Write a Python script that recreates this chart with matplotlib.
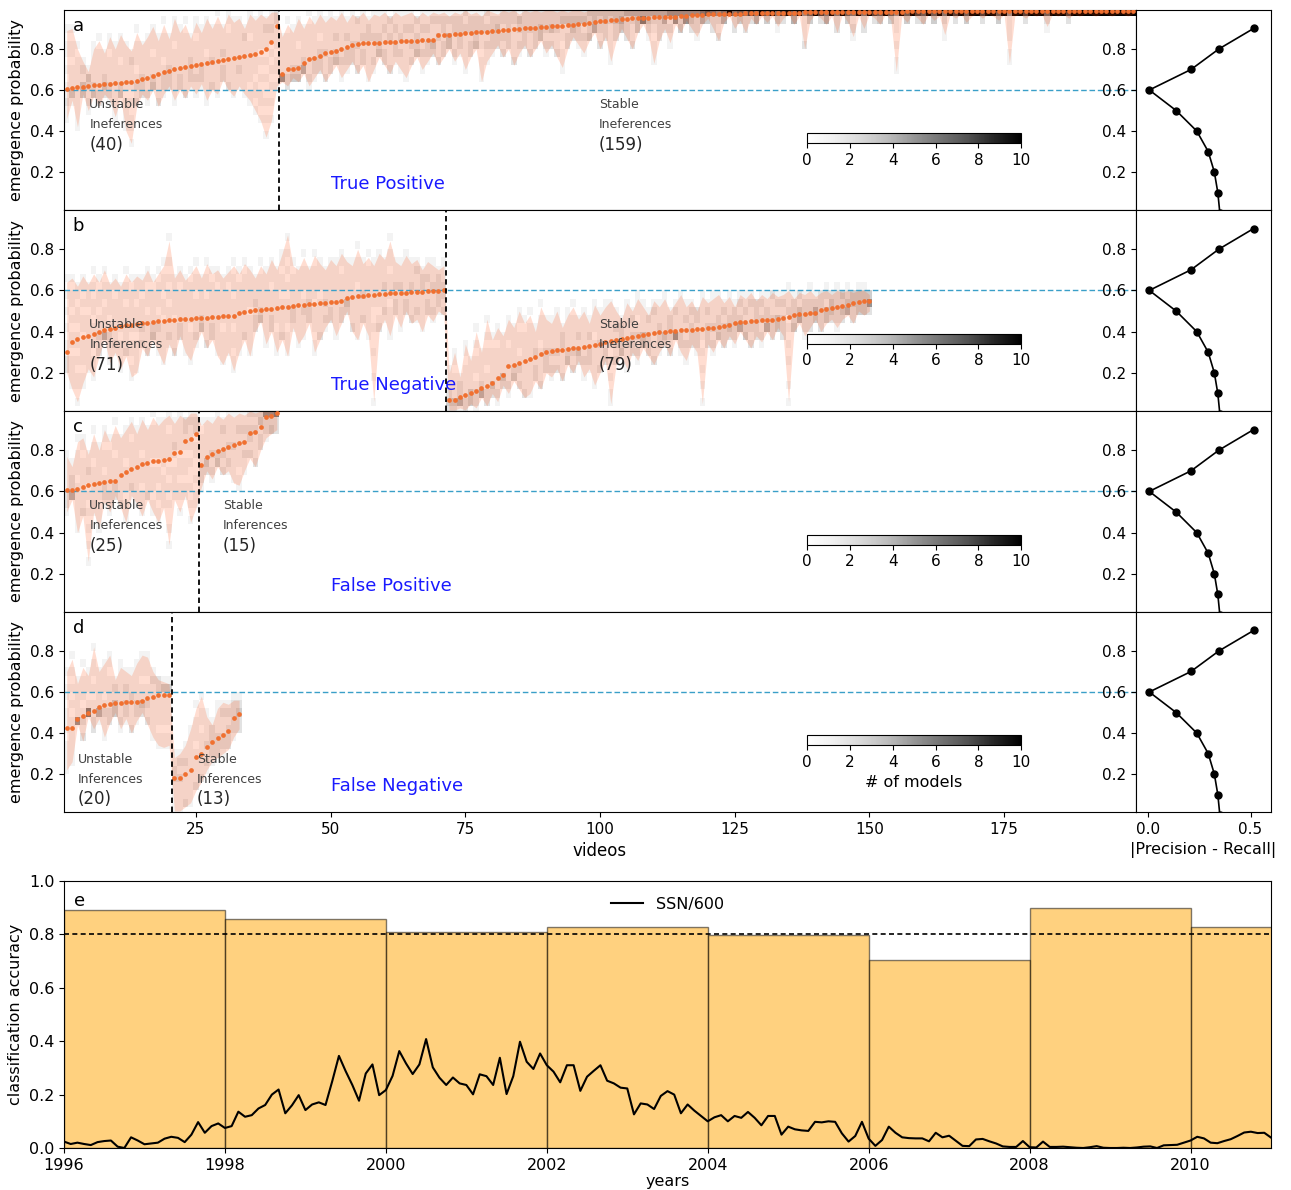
import numpy as np
import matplotlib
matplotlib.use("Agg")
import matplotlib.pyplot as plt

# ---------------- data ----------------
# panel a : true positive
a_un_mean = [0.605,0.610,0.613,0.616,0.619,0.622,0.625,0.627,0.630,0.632,
             0.635,0.637,0.640,0.646,0.653,0.660,0.668,0.678,0.688,0.694,
             0.700,0.705,0.710,0.715,0.720,0.725,0.730,0.735,0.740,0.745,
             0.750,0.755,0.760,0.765,0.770,0.776,0.785,0.800,0.835,0.910]
a_un_up = [0.89,0.90,0.80,0.74,0.69,0.80,0.84,0.78,0.86,0.80,0.87,0.82,0.79,0.88,0.82,0.86,0.91,0.84,0.92,0.85,
           0.95,0.88,0.92,0.85,0.93,0.88,0.95,0.90,0.96,0.90,0.97,0.93,0.95,0.90,0.97,0.94,0.97,0.95,0.98,0.98]
a_un_low = [0.46,0.55,0.42,0.58,0.50,0.57,0.52,0.58,0.55,0.47,0.56,0.40,0.34,0.52,0.58,0.55,0.60,0.52,0.58,0.62,
            0.55,0.60,0.56,0.62,0.58,0.63,0.55,0.60,0.58,0.65,0.60,0.57,0.62,0.58,0.55,0.50,0.45,0.37,0.45,0.62]
a_st_mean = [0.679,0.700,0.702,0.705,0.730,0.750,0.757,0.768,0.778,0.786,
             0.792,0.800,0.812,0.818,0.824,0.827,0.829,0.830,0.831,0.832,
             0.834,0.835,0.837,0.838,0.840,0.841,0.843,0.844,0.846,0.866,
             0.868,0.870,0.872,0.874,0.877,0.879,0.881,0.883,0.885,0.887,
             0.890,0.892,0.894,0.896,0.898,0.900,0.902,0.904,0.906,0.908,
             0.910,0.912,0.914,0.916,0.918,0.921,0.924,0.927,0.930,0.934,
             0.937,0.940,0.943,0.945,0.947,0.949,0.950,0.952,0.953,0.954,
             0.955,0.956,0.957,0.958,0.960,0.962,0.964,0.966,0.968,0.969,
             0.970,0.970,0.971,0.971,0.972,0.972,0.973,0.973,0.974,0.974,
             0.975,0.975,0.976,0.976,0.977,0.977,0.977,0.978,0.978,0.978,
             0.979,0.979,0.979,0.980,0.980,0.980,0.980,0.981,0.981,0.981,
             0.981,0.982,0.982,0.982,0.982,0.982,0.983,0.983,0.983,0.983,
             0.983,0.983,0.984,0.984,0.984,0.984,0.984,0.984,0.984,0.985,
             0.985,0.985,0.985,0.985,0.985,0.985,0.985,0.985,0.985,0.985,
             0.985,0.985,0.986,0.986,0.986,0.986,0.986,0.986,0.986,0.986,
             0.986,0.986,0.986,0.986,0.986,0.986,0.986,0.986,0.986]
a_st_up = [0.86,0.92,0.88,0.95,0.90,0.96,0.92,0.97,0.93,0.96,
           0.94,0.98,0.93,0.97,0.95,0.98,0.94,0.97,0.96,0.98,
           0.95,0.98,0.96,0.97,0.98,0.95,0.98,0.96,0.98,0.97,
           0.98,0.96,0.98,0.97,0.99,0.97,0.98,0.96,0.99,0.98,
           0.97,0.99,0.98,0.99,0.97,0.99,0.98,0.99,0.98,0.99,
           0.99,0.98,0.99,0.98,0.99,0.99,0.98,0.99,0.99,0.99,
           0.99,0.99,0.99,0.99,0.99,0.99,0.99,0.99,0.99,0.99,
           0.99,0.99,0.99,0.99,0.99,0.99,0.99,0.99,0.99,0.99,
           0.99,0.99,0.99,0.99,0.99,0.99,0.99,0.99,0.99,0.99,
           0.99,0.99,0.99,0.99,0.99,0.99,0.99,0.99,0.99,0.99,
           0.99,0.99,0.99,0.99,0.99,0.99,0.99,0.99,0.99,0.99,
           0.99,0.99,0.99,0.99,0.99,0.99,0.99,0.99,0.99,0.99,
           0.99,0.99,0.99,0.99,0.99,0.99,0.99,0.99,0.99,0.99,
           0.99,0.99,0.99,0.99,0.99,0.99,0.99,0.99,0.99,0.99,
           0.99,0.99,0.99,0.99,0.99,0.99,0.99,0.99,0.99,0.99,
           0.99,0.99,0.99,0.99,0.99,0.99,0.99,0.99,0.99]
a_st_low = [0.64,0.62,0.66,0.64,0.68,0.62,0.66,0.70,0.64,0.68,
            0.72,0.66,0.70,0.74,0.68,0.72,0.64,0.70,0.76,0.72,
            0.68,0.74,0.70,0.66,0.72,0.76,0.70,0.74,0.78,0.72,
            0.76,0.80,0.74,0.78,0.70,0.76,0.80,0.64,0.74,0.78,
            0.82,0.76,0.80,0.72,0.78,0.82,0.76,0.80,0.84,0.78,
            0.82,0.76,0.71,0.80,0.86,0.82,0.78,0.84,0.88,0.80,
            0.86,0.74,0.84,0.90,0.85,0.80,0.88,0.92,0.86,0.73,
            0.84,0.90,0.83,0.92,0.88,0.94,0.90,0.86,0.92,0.95,
            0.90,0.84,0.93,0.96,0.90,0.94,0.88,0.95,0.92,0.96,
            0.93,0.96,0.91,0.95,0.97,0.92,0.96,0.80,0.94,0.97,
            0.95,0.92,0.96,0.88,0.97,0.93,0.86,0.96,0.90,0.97,
            0.95,0.92,0.97,0.94,0.69,0.96,0.93,0.97,0.95,0.92,
            0.97,0.94,0.96,0.87,0.97,0.95,0.97,0.93,0.96,0.97,
            0.95,0.97,0.96,0.94,0.97,0.73,0.96,0.97,0.95,0.97,
            0.96,0.97,0.91,0.97,0.96,0.97,0.95,0.97,0.96,0.97,
            0.97,0.96,0.97,0.97,0.96,0.97,0.97,0.96,0.97]

# panel b : true negative
b_un_mean = [0.300,0.350,0.365,0.372,0.380,0.390,0.400,0.410,0.415,0.420,
             0.425,0.430,0.433,0.437,0.441,0.444,0.447,0.450,0.453,0.456,
             0.458,0.460,0.462,0.463,0.465,0.466,0.468,0.470,0.472,0.474,
             0.476,0.478,0.492,0.496,0.500,0.503,0.506,0.509,0.512,0.515,
             0.518,0.521,0.524,0.527,0.530,0.533,0.536,0.538,0.540,0.543,
             0.546,0.549,0.562,0.567,0.571,0.575,0.577,0.579,0.581,0.583,
             0.585,0.587,0.588,0.589,0.591,0.592,0.594,0.595,0.596,0.599,0.600]
b_un_up = [0.64,0.66,0.62,0.67,0.63,0.68,0.64,0.70,0.63,0.66,0.62,0.68,0.64,0.67,0.65,0.70,0.64,0.68,0.72,0.84,
           0.66,0.70,0.65,0.68,0.72,0.66,0.73,0.68,0.70,0.66,0.69,0.72,0.68,0.73,0.70,0.66,0.72,0.68,0.75,0.70,
           0.78,0.87,0.72,0.70,0.76,0.70,0.77,0.73,0.70,0.75,0.72,0.78,0.74,0.72,0.80,0.73,0.76,0.72,0.78,0.75,
           0.84,0.74,0.72,0.77,0.73,0.75,0.70,0.74,0.72,0.70,0.72]
b_un_low = [0.20,0.12,0.06,0.15,0.22,0.18,0.28,0.36,0.25,0.30,0.22,0.28,0.18,0.20,0.32,0.28,0.36,0.30,0.24,0.34,
            0.28,0.38,0.30,0.26,0.34,0.40,0.32,0.36,0.28,0.24,0.30,0.21,0.30,0.36,0.28,0.40,0.45,0.34,0.40,0.30,
            0.36,0.28,0.42,0.34,0.38,0.44,0.30,0.36,0.42,0.46,0.38,0.44,0.50,0.40,0.36,0.44,0.38,0.06,0.40,0.46,
            0.38,0.48,0.42,0.50,0.44,0.46,0.40,0.48,0.45,0.50,0.48]
b_st_mean = [0.070,0.070,0.085,0.095,0.100,0.110,0.125,0.135,0.150,0.175,
             0.190,0.235,0.240,0.250,0.258,0.266,0.275,0.290,0.300,0.305,
             0.310,0.313,0.316,0.320,0.322,0.326,0.330,0.336,0.340,0.348,
             0.356,0.360,0.366,0.370,0.375,0.380,0.385,0.390,0.393,0.396,
             0.400,0.402,0.404,0.406,0.408,0.410,0.412,0.415,0.418,0.420,
             0.423,0.426,0.430,0.440,0.445,0.448,0.450,0.452,0.454,0.456,
             0.458,0.460,0.465,0.470,0.482,0.485,0.487,0.490,0.492,0.506,
             0.510,0.514,0.518,0.524,0.530,0.538,0.545,0.548,0.550]
b_st_up = [0.20,0.30,0.18,0.34,0.26,0.40,0.30,0.46,0.36,0.42,
           0.38,0.46,0.42,0.50,0.44,0.48,0.40,0.52,0.46,0.44,
           0.50,0.42,0.48,0.52,0.46,0.50,0.44,0.53,0.48,0.52,
           0.55,0.50,0.46,0.54,0.50,0.56,0.52,0.48,0.55,0.52,
           0.56,0.50,0.54,0.58,0.52,0.55,0.50,0.57,0.54,0.56,
           0.58,0.54,0.57,0.52,0.58,0.56,0.59,0.55,0.58,0.56,
           0.59,0.57,0.58,0.60,0.56,0.59,0.58,0.60,0.57,0.59,
           0.60,0.58,0.60,0.59,0.60,0.59,0.60,0.60,0.58]
b_st_low = [0.02,0.02,0.03,0.02,0.05,0.03,0.08,0.04,0.10,0.06,
            0.14,0.10,0.16,0.12,0.08,0.10,0.16,0.12,0.20,0.18,
            0.22,0.16,0.24,0.20,0.26,0.18,0.22,0.14,0.20,0.26,
            0.05,0.24,0.28,0.22,0.30,0.26,0.32,0.28,0.24,0.30,
            0.34,0.28,0.36,0.30,0.26,0.34,0.30,0.05,0.34,0.30,
            0.36,0.32,0.38,0.34,0.40,0.36,0.32,0.38,0.35,0.40,
            0.36,0.42,0.38,0.06,0.40,0.44,0.38,0.42,0.46,0.40,
            0.44,0.46,0.42,0.46,0.48,0.44,0.50,0.48,0.50]

# panel c : false positive
c_un_mean = [0.606,0.606,0.611,0.619,0.631,0.636,0.641,0.644,0.649,0.651,
             0.680,0.693,0.710,0.718,0.734,0.738,0.746,0.748,0.751,0.759,
             0.788,0.792,0.846,0.854,0.879]
c_un_up = [0.77,0.72,0.84,0.86,0.78,0.88,0.80,0.90,0.84,0.92,0.86,0.90,0.94,0.88,0.95,0.90,0.96,0.92,0.95,0.97,
           0.93,0.97,0.95,0.98,0.98]
c_un_low = [0.50,0.56,0.40,0.48,0.26,0.50,0.42,0.55,0.50,0.58,0.52,0.45,0.58,0.54,0.48,0.56,0.50,0.45,0.52,0.34,
            0.56,0.50,0.58,0.45,0.52]
c_st_mean = [0.726,0.767,0.780,0.797,0.808,0.816,0.824,0.836,0.838,0.885,0.890,0.912,0.961,0.967,0.980]
c_st_up = [0.92,0.95,0.93,0.97,0.95,0.98,0.96,0.98,0.97,0.99,0.98,0.99,0.99,0.99,0.99]
c_st_low = [0.62,0.70,0.66,0.72,0.68,0.70,0.64,0.63,0.70,0.76,0.72,0.80,0.86,0.88,0.90]

# panel d : false negative
d_un_mean = [0.425,0.425,0.467,0.483,0.500,0.508,0.525,0.537,0.542,0.545,
             0.548,0.552,0.553,0.553,0.558,0.570,0.578,0.583,0.587,0.587]
d_un_up = [0.70,0.76,0.64,0.72,0.68,0.82,0.70,0.74,0.78,0.66,0.72,0.70,0.68,0.74,0.78,0.77,0.70,0.66,0.65,0.64]
d_un_low = [0.22,0.26,0.44,0.36,0.48,0.42,0.47,0.38,0.45,0.50,0.42,0.47,0.40,0.46,0.50,0.44,0.38,0.34,0.33,0.34]
d_st_mean = [0.183,0.183,0.200,0.220,0.283,0.300,0.333,0.358,0.378,0.392,0.412,0.475,0.495]
d_st_up = [0.28,0.30,0.34,0.42,0.52,0.58,0.48,0.44,0.52,0.55,0.54,0.56,0.56]
d_st_low = [0.02,0.02,0.04,0.06,0.12,0.16,0.22,0.26,0.28,0.30,0.32,0.38,0.42]

panel_letters = ["a", "b", "c", "d"]
panel_titles = ["True Positive", "True Negative", "False Positive", "False Negative"]
unstable_words = ["Ineferences", "Ineferences", "Ineferences", "Inferences"]
stable_words = ["Ineferences", "Ineferences", "Inferences", "Inferences"]

# right panels: |precision - recall| vs threshold
thresholds = [0.9, 0.8, 0.7, 0.6, 0.5, 0.4, 0.3, 0.2, 0.1, 0.0]
pr_diff = [0.515, 0.345, 0.209, 0.005, 0.136, 0.237, 0.293, 0.323, 0.340, 0.350]

# panel e
bin_years = [1996, 1998, 2000, 2002, 2004, 2006, 2008, 2010]
accuracy = [0.89, 0.859, 0.809, 0.828, 0.797, 0.703, 0.90, 0.828]
ssn_start = 1996
ssn600 = [0.024,0.015,0.020,0.015,0.011,0.022,0.026,0.028,0.005,0.000,0.040,0.028,
          0.014,0.017,0.020,0.035,0.042,0.038,0.022,0.050,0.097,0.057,0.082,0.092,
          0.075,0.082,0.136,0.117,0.123,0.148,0.161,0.200,0.219,0.130,0.160,0.198,
          0.142,0.163,0.171,0.161,0.250,0.345,0.288,0.236,0.177,0.279,0.313,0.198,
          0.217,0.270,0.363,0.317,0.277,0.313,0.408,0.302,0.263,0.236,0.264,0.242,
          0.236,0.201,0.276,0.269,0.236,0.338,0.202,0.269,0.398,0.323,0.296,0.354,
          0.310,0.286,0.246,0.310,0.310,0.214,0.267,0.289,0.310,0.252,0.242,0.226,
          0.223,0.126,0.167,0.163,0.146,0.195,0.213,0.200,0.130,0.163,0.140,0.120,
          0.100,0.115,0.123,0.100,0.120,0.113,0.135,0.113,0.085,0.120,0.120,0.050,
          0.080,0.070,0.066,0.064,0.098,0.096,0.100,0.098,0.055,0.024,0.045,0.098,
          0.035,0.008,0.030,0.080,0.057,0.040,0.037,0.036,0.036,0.025,0.057,0.040,
          0.046,0.027,0.008,0.007,0.032,0.034,0.025,0.017,0.006,0.004,0.004,0.026,
          0.003,0.002,0.024,0.004,0.004,0.005,0.003,0.001,0.000,0.003,0.007,0.001,
          0.000,0.000,0.001,0.000,0.002,0.005,0.006,0.000,0.010,0.011,0.012,0.020,
          0.028,0.042,0.036,0.020,0.018,0.026,0.033,0.045,0.058,0.061,0.056,0.057,
          0.039]

panels = [
    (a_un_mean, a_un_low, a_un_up, a_st_mean, a_st_low, a_st_up),
    (b_un_mean, b_un_low, b_un_up, b_st_mean, b_st_low, b_st_up),
    (c_un_mean, c_un_low, c_un_up, c_st_mean, c_st_low, c_st_up),
    (d_un_mean, d_un_low, d_un_up, d_st_mean, d_st_low, d_st_up),
]
for p in panels:
    assert len(p[0]) == len(p[1]) == len(p[2]), [len(x) for x in p]
    assert len(p[3]) == len(p[4]) == len(p[5]), [len(x) for x in p]

# --------------- style / layout ---------------
W, H = 1291, 1190
fig = plt.figure(figsize=(W / 100, H / 100), dpi=100)

def frac(x0, y0, x1, y1):
    return [x0 / W, 1 - y1 / H, (x1 - x0) / W, (y1 - y0) / H]

row_px = [(10, 210), (210, 411), (411, 612), (612, 812)]
YLIM = (0.015, 0.99)
NBINS = 25
OFFS = np.array([-1.0, -0.78, -0.56, -0.33, -0.11, 0.11, 0.33, 0.56, 0.78, 1.0])
# label anchor (x in videos, y of first line in data units) for each panel
lab_un = [(5.2, 0.53), (5.2, 0.434), (5.2, 0.533), (3.1, 0.27)]
lab_st = [(99.8, 0.53), (99.8, 0.434), (30.0, 0.533), (25.2, 0.27)]
line_step = [0.098, 0.098, 0.098, 0.096]

def model_counts(mean, low, up):
    m = np.asarray(mean)[:, None]
    lo = np.asarray(low)[:, None]
    hi = np.asarray(up)[:, None]
    vals = np.where(OFFS < 0, m + OFFS * (m - lo), m + OFFS * (hi - m))
    vals = np.clip(vals, 0, 0.9999)
    idx = (vals * NBINS).astype(int)
    C = np.zeros((len(mean), NBINS))
    for i in range(len(mean)):
        C[i] = np.bincount(idx[i], minlength=NBINS)
    return C

dot_color = "#f07030"
fill_color = "orangered"
blue_line = "#3a9fc8"

for k, (um, ul, uu, sm, sl, su) in enumerate(panels):
    y0, y1 = row_px[k]
    ax = fig.add_axes(frac(64, y0, 1136, y1))
    axr = fig.add_axes(frac(1136, y0, 1271, y1))
    mean = list(um) + list(sm)
    low = list(ul) + list(sl)
    up = list(uu) + list(su)
    n_un = len(um)
    n = len(mean)
    v = np.arange(1, n + 1)
    C = model_counts(mean, low, up)
    xe = np.arange(n + 1) + 0.5
    ye = np.linspace(0, 1, NBINS + 1)
    mesh = ax.pcolormesh(xe, ye, C.T, cmap="Greys", vmin=0, vmax=10, zorder=0)
    ax.fill_between(v, low, up, color=fill_color, alpha=0.18, lw=0, zorder=1)
    ax.plot(v, mean, "o", ms=3.4, color=dot_color, mec="none", zorder=3)
    ax.axhline(0.6, color=blue_line, ls=(0, (4, 2)), lw=1.0, zorder=2)
    ax.axvline(n_un + 0.5, color="k", ls=(0, (3, 2)), lw=1.3, zorder=4)
    ax.set_xlim(0.5, 199.5)
    ax.set_ylim(*YLIM)
    ax.set_yticks([0.2, 0.4, 0.6, 0.8])
    ax.tick_params(labelsize=11)
    ax.set_ylabel("emergence probability", fontsize=11.5)
    ax.text(0.008, 0.965, panel_letters[k], transform=ax.transAxes, fontsize=13,
            va="top", ha="left")
    ax.text(50, 0.14, panel_titles[k], color="#1a1aff", fontsize=13, va="center", ha="left")
    # group labels
    st = line_step[k]
    for (lx, ly), w1, w2, cnt in [(lab_un[k], "Unstable", unstable_words[k], n_un),
                                 (lab_st[k], "Stable", stable_words[k], n - n_un)]:
        ax.text(lx, ly, w1, fontsize=9, color="0.25", va="center", ha="left", zorder=5)
        ax.text(lx, ly - st, w2, fontsize=9, color="0.25", va="center", ha="left", zorder=5)
        ax.text(lx, ly - 2 * st, "(%d)" % cnt, fontsize=12, color="0.15", va="center",
                ha="left", zorder=5)
    # colorbar inset
    cax = ax.inset_axes([0.693, 0.335, 0.2, 0.05])
    cb = fig.colorbar(mesh, cax=cax, orientation="horizontal", ticks=[0, 2, 4, 6, 8, 10])
    cb.ax.tick_params(labelsize=11)
    if k == 3:
        cb.set_label("# of models", fontsize=11.5)
        ax.set_xticks([25, 50, 75, 100, 125, 150, 175])
        ax.set_xlabel("videos", fontsize=12)
    else:
        ax.set_xticks([])
    # right panel
    axr.plot(pr_diff, thresholds, "-o", color="k", ms=5, lw=1.2)
    axr.set_xlim(-0.06, 0.6)
    axr.set_ylim(*YLIM)
    axr.set_yticks([0.2, 0.4, 0.6, 0.8])
    axr.tick_params(labelsize=11)
    if k == 3:
        axr.set_xticks([0.0, 0.5])
        axr.set_xlabel("|Precision - Recall|", fontsize=11.5)
    else:
        axr.set_xticks([])

# ---------------- panel e ----------------
axe = fig.add_axes(frac(64, 881, 1271, 1148))
axe.bar(bin_years, accuracy, width=2, align="edge", color="orange", alpha=0.5,
        edgecolor="k", lw=1.0, zorder=1)
axe.axhline(0.8, color="k", ls=(0, (3, 2)), lw=1.2, zorder=2)
years = ssn_start + np.arange(len(ssn600)) / 12.0
axe.plot(years, ssn600, color="k", lw=1.5, label="SSN/600", zorder=3)
axe.set_xlim(1996, 2011)
axe.set_ylim(0, 1)
axe.set_xticks([1996, 1998, 2000, 2002, 2004, 2006, 2008, 2010])
axe.set_yticks([0.0, 0.2, 0.4, 0.6, 0.8, 1.0])
axe.tick_params(labelsize=11.5)
axe.set_ylabel("classification accuracy", fontsize=11.5)
axe.set_xlabel("years", fontsize=11.5, labelpad=1)
axe.text(0.008, 0.96, "e", transform=axe.transAxes, fontsize=13, va="top", ha="left")
axe.legend(loc="upper center", frameon=False, fontsize=11.5, bbox_to_anchor=(0.5, 0.995))

fig.savefig("out.png", dpi=100)
